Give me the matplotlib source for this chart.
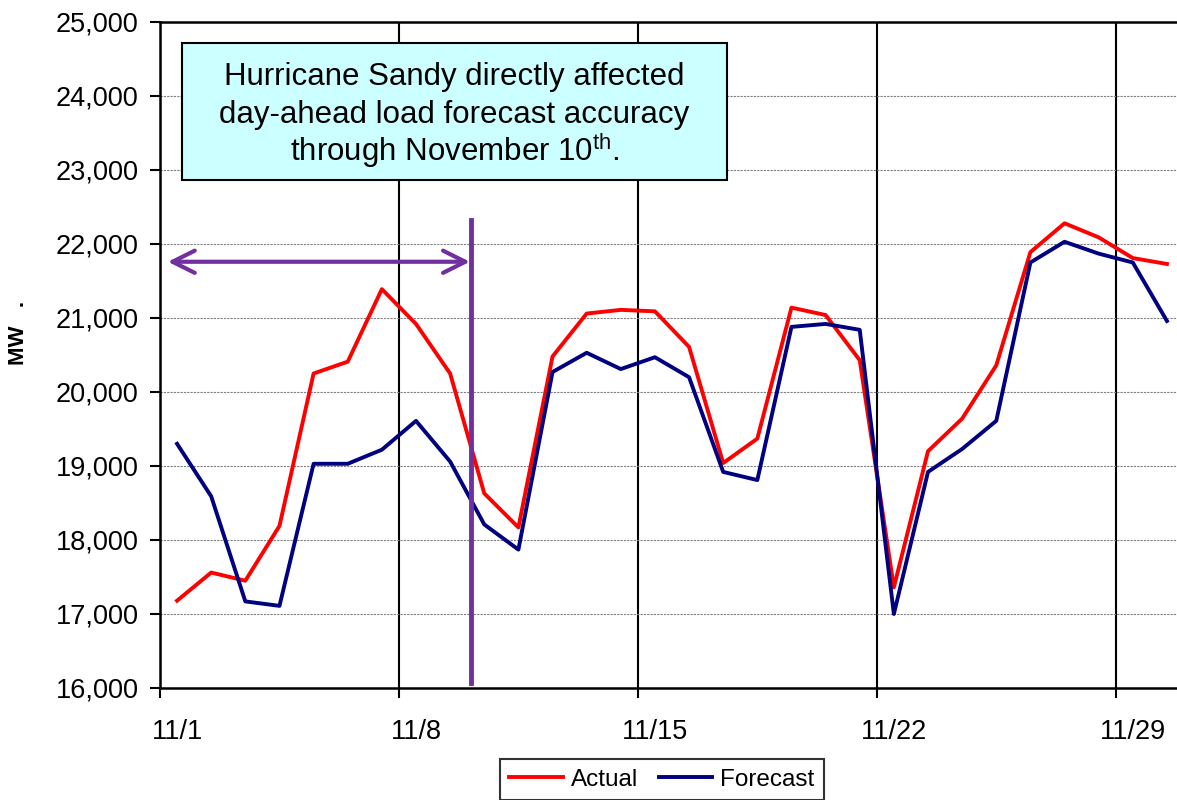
import numpy as np
import matplotlib
matplotlib.use('Agg')
import matplotlib.pyplot as plt
from matplotlib.patches import Rectangle
from matplotlib.ticker import FuncFormatter

plt.rcParams['font.family'] = ['Liberation Sans', 'DejaVu Sans']
plt.rcParams['mathtext.fontset'] = 'custom'
plt.rcParams['mathtext.rm'] = 'Liberation Sans'

# November 2012, daily peak load (MW)
days = np.arange(1, 31)
actual = [17180, 17560, 17450, 18190, 20250, 20410, 21390, 20920, 20250, 18630,
          18170, 20480, 21060, 21110, 21090, 20610, 19040, 19370, 21140, 21040,
          20430, 17360, 19200, 19640, 20360, 21890, 22280, 22090, 21810, 21730]
forecast = [19300, 18590, 17170, 17110, 19030, 19030, 19220, 19610, 19060, 18210,
            17870, 20270, 20530, 20310, 20470, 20200, 18920, 18810, 20880, 20920,
            20840, 17000, 18920, 19230, 19610, 21750, 22030, 21870, 21750, 20960]
tick_days = [1, 8, 15, 22, 29]
tick_labels = ['11/1', '11/8', '11/15', '11/22', '11/29']

note_lines = ["Hurricane Sandy directly affected",
              "day-ahead load forecast accuracy",
              "through November 10$^{\\mathrm{th}}$."]
purple = '#7030A0'

fig = plt.figure(figsize=(11.77, 8), dpi=100)
ax = fig.add_axes([160 / 1177, 112 / 800, 1024 / 1177, 666 / 800])

x = days - 0.5  # points sit in the middle of each day slot
ax.plot(x, actual, color='#FF0000', lw=2.8, label='Actual', zorder=3)
ax.plot(x, forecast, color='#000080', lw=2.8, label='Forecast', zorder=3)

ax.set_xlim(0, 30)
ax.set_ylim(16000, 25000)
ax.set_yticks(np.arange(16000, 25001, 1000))
ax.yaxis.set_major_formatter(FuncFormatter(lambda v, p: f'{int(v):,}'))

starts = [d - 1 for d in tick_days]
ax.set_xticks(starts)
ax.set_xticklabels([])
ax.set_xticks([s + 0.5 for s in starts], minor=True)
ax.set_xticklabels(tick_labels, minor=True)
ax.tick_params(axis='x', which='minor', length=0, pad=22, labelsize=19.5)
ax.tick_params(axis='both', which='major', direction='out', length=7.5, width=1.5,
               labelsize=19.5)
ax.tick_params(axis='y', pad=8)

ax.grid(axis='y', color='#808080', lw=0.8, linestyle=(0, (2, 1)))
ax.grid(axis='x', which='major', color='black', lw=1.5)
ax.set_axisbelow(True)

for side in ['left', 'bottom', 'top']:
    ax.spines[side].set_linewidth(1.8)
ax.spines['right'].set_visible(False)

# note box
ax.add_patch(Rectangle((22 / 1024, (688 - 180) / 666), 545 / 1024, 137 / 666,
                       transform=ax.transAxes, facecolor='#CCFFFF',
                       edgecolor='black', lw=1.5, zorder=4))
for line, base in zip(note_lines, [85, 123, 161]):
    ax.text((454.5 - 160) / 1024, (688 - base) / 666, line, transform=ax.transAxes,
            ha='center', va='baseline', fontsize=22.5, zorder=5)

# affected-period arrow and marker line
ax.annotate('', xy=(9.08, 21760), xytext=(0.23, 21760),
            arrowprops=dict(arrowstyle='<->,head_length=0.8,head_width=0.4',
                            color=purple, lw=3, mutation_scale=20,
                            shrinkA=0, shrinkB=0, capstyle='round'),
            zorder=6)
ax.plot([9.12, 9.12], [16070, 22320], color=purple, lw=3.5, zorder=6)

fig.text(18 / 1177, 1 - 333 / 800, 'MW   .', rotation=90, ha='center',
         va='center', fontsize=16, fontweight='bold')

leg = fig.legend(loc='upper center', bbox_to_anchor=(662 / 1177, 1 - 759 / 800),
                 ncol=2, fontsize=17.5, frameon=True, fancybox=False,
                 edgecolor='black', handlelength=2.2, handletextpad=0.33,
                 columnspacing=0.86, borderaxespad=0, borderpad=0.4)
leg.get_frame().set_linewidth(1.5)

fig.savefig('out.png', dpi=100)
